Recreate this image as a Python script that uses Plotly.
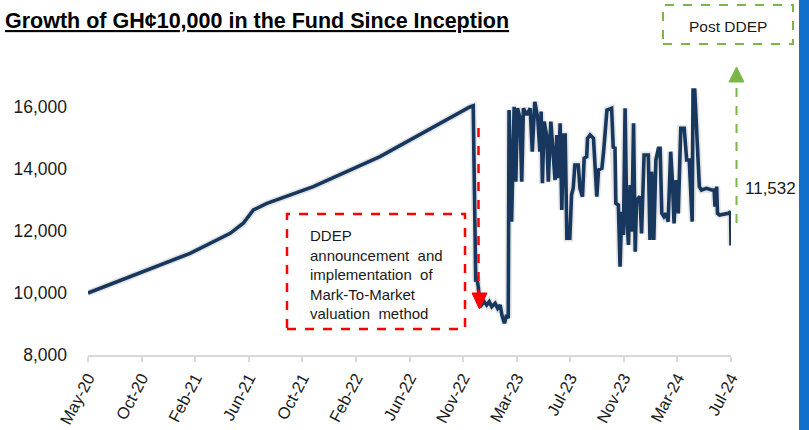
import pandas as pd
import plotly.graph_objects as go

# ---- data (days since inception, fund value in GH¢) ----
start_date = "2020-05-29"
days = [0, 126, 242, 337, 368, 392, 424, 534, 692, 905, 913,
        919, 921, 925, 929, 939, 945, 951, 957, 965, 971, 977, 981, 987, 992, 996,
        998, 1004, 1010, 1014, 1018, 1024, 1028, 1032, 1040, 1048, 1053, 1059, 1066, 1071,
        1074, 1077, 1081, 1087, 1091, 1097, 1103, 1107, 1111, 1115, 1119, 1123, 1127, 1131,
        1135, 1142, 1146, 1150, 1154, 1162, 1166, 1172, 1176, 1182, 1184, 1190, 1198, 1202,
        1206, 1210, 1218, 1222, 1230, 1241, 1245, 1249, 1251, 1257, 1261, 1265, 1269, 1273,
        1277, 1281, 1285, 1289, 1293, 1297, 1300, 1304, 1308, 1312, 1318, 1328, 1332, 1336,
        1341, 1346, 1352, 1356, 1360, 1365, 1370, 1375, 1381, 1385, 1389, 1394, 1399, 1405,
        1413, 1419, 1425, 1432, 1434, 1438, 1449, 1454, 1466, 1478, 1484, 1486, 1490, 1492,
        1497, 1518, 1523, 1524]
values = [10000, 10660, 11280, 11925, 12250, 12680, 12890, 13430, 14400, 16000, 16040,
          10365, 10525, 10200, 9557, 9720, 9613, 9720, 9557, 9667, 9506, 9613, 9290, 9022, 9290, 9183,
          15900, 12300, 16010, 13590, 15958, 15635, 13590, 15958, 15742, 15958, 14558, 16170, 15635, 14558,
          15850, 13538, 15527, 15097, 13590, 15527, 14558, 13645, 15097, 13700, 15473, 12677, 15097, 15097,
          11764, 11764, 13162, 13377, 14129, 14129, 13377, 13108, 14345, 14397, 14990, 15097, 14990, 14235,
          13108, 13968, 14022, 14558, 15903, 15958, 14667, 14720, 12893, 12839, 10848, 12623, 11870, 15958,
          12410, 11548, 13484, 11977, 15473, 11332, 12945, 13054, 13108, 11925, 14450, 14450, 11710, 13914,
          11710, 14290, 14667, 14667, 12570, 12462, 12570, 12300, 14558, 13645, 12248, 13645, 12570, 15312,
          15312, 14290, 14290, 12300, 16548, 16548, 13430, 13323, 13377, 13323, 13323, 12784, 13430, 12570,
          12516, 12570, 12623, 11532]

tick_labels = ["May-20", "Oct-20", "Feb-21", "Jun-21", "Oct-21", "Feb-22", "Jun-22",
               "Nov-22", "Mar-23", "Jul-23", "Nov-23", "Mar-24", "Jul-24"]
y_ticks = [8000, 10000, 12000, 14000, 16000]
last_value = 11532

title_text = "Growth of GH¢10,000 in the Fund Since Inception"
ddep_text = "DDEP<br>announcement&nbsp;&nbsp;and<br>implementation&nbsp; of<br>Mark-To-Market<br>valuation&nbsp; method"
post_text = "Post DDEP"

# ---- build ----
t0 = pd.Timestamp(start_date)
dates = t0 + pd.to_timedelta(days, unit="D")
end_date = dates[-1]
step = (end_date - t0) / (len(tick_labels) - 1)
tick_dates = [t0 + step * i for i in range(len(tick_labels))]

W, H = 809, 430
L, R, T, B = 88, 731, 45, 355


def px(x):
    return (x - L) / (R - L)


def py(y):
    return (B - y) / (B - T)


fig = go.Figure()
fig.add_trace(go.Scatter(x=dates, y=values, mode="lines",
                         line=dict(color="rgba(0,0,0,0.10)", width=7),
                         hoverinfo="skip", showlegend=False))
fig.add_trace(go.Scatter(x=dates, y=values, mode="lines",
                         line=dict(color="#17375E", width=3.6),
                         hoverinfo="skip", showlegend=False))

FONT = "Liberation Sans, Arial, sans-serif"
shapes = []
shapes.append(dict(type="rect", xref="paper", yref="paper",
                   x0=px(287), x1=px(465), y0=py(329), y1=py(214),
                   line=dict(color="#FF0000", width=2.5, dash="dash")))
shapes.append(dict(type="line", xref="paper", yref="paper",
                   x0=px(478.5), x1=px(478.5), y0=py(128), y1=py(294),
                   line=dict(color="#FF0000", width=2.5, dash="dash")))
shapes.append(dict(type="path", xref="paper", yref="paper",
                   path=f"M {px(472)} {py(293)} L {px(487)} {py(293)} L {px(479.5)} {py(309)} Z",
                   fillcolor="#FF0000", line=dict(color="#FF0000", width=1)))
shapes.append(dict(type="rect", xref="paper", yref="paper",
                   x0=px(663), x1=px(793), y0=py(44), y1=py(5),
                   line=dict(color="#7AB648", width=2, dash="dash")))
shapes.append(dict(type="line", xref="paper", yref="paper",
                   x0=px(736.5), x1=px(736.5), y0=py(223), y1=py(82),
                   line=dict(color="#7AB648", width=2, dash="dash")))
shapes.append(dict(type="path", xref="paper", yref="paper",
                   path=f"M {px(729)} {py(82)} L {px(744)} {py(82)} L {px(736.5)} {py(67)} Z",
                   fillcolor="#7AB648", line=dict(color="#7AB648", width=1)))
# blue strip on the right edge
shapes.append(dict(type="line", xref="paper", yref="paper",
                   x0=px(804), x1=px(804), y0=py(432), y1=py(-2),
                   line=dict(color="#1170CC", width=10), layer="above"))

annotations = [
    dict(xref="paper", yref="paper", x=px(308), y=py(274), xanchor="left", yanchor="middle",
         text=ddep_text, align="left", showarrow=False,
         font=dict(family=FONT, size=15, color="#1a1a1a")),
    dict(xref="paper", yref="paper", x=px(728), y=py(26), xanchor="center", yanchor="middle",
         text=post_text, showarrow=False,
         font=dict(family=FONT, size=15.5, color="#1a1a1a")),
    dict(xref="paper", yref="paper", x=px(743), y=py(188), xanchor="left", yanchor="middle",
         text=f"{last_value:,}", showarrow=False,
         font=dict(family=FONT, size=17, color="#1a1a1a")),
    dict(xref="paper", yref="paper", x=px(3), y=py(21), xanchor="left", yanchor="middle",
         text=f"<b><span style='text-decoration:underline'>{title_text}</span></b>",
         showarrow=False, font=dict(family=FONT, size=21.5, color="#000000")),
]

fig.update_layout(
    width=W, height=H,
    margin=dict(l=L, r=W - R, t=T, b=H - B),
    paper_bgcolor="white", plot_bgcolor="white",
    font=dict(family=FONT, color="#1a1a1a"),
    shapes=shapes, annotations=annotations,
    showlegend=False,
)
fig.update_xaxes(type="date", range=[t0, end_date], automargin=False,
                 tickmode="array", tickvals=tick_dates, ticktext=tick_labels,
                 tickangle=-62, tickfont=dict(family=FONT, size=16.5, color="#1a1a1a"),
                 ticklabelstandoff=0,
                 showgrid=False, zeroline=False,
                 showline=True, linecolor="#D9D9D9", linewidth=2,
                 ticks="outside", ticklen=5, tickcolor="#D9D9D9", tickwidth=2)
fig.update_yaxes(range=[8000, 18000], automargin=False, tickmode="array", tickvals=y_ticks,
                 tickformat=",d", tickfont=dict(family=FONT, size=17.5, color="#1a1a1a"),
                 showgrid=False, zeroline=False, showline=False, ticks="",
                 ticklabelstandoff=20)

fig.write_html("out.html", config={"displayModeBar": False},
               post_script="document.body.style.margin='0';document.body.style.overflow='hidden';")
